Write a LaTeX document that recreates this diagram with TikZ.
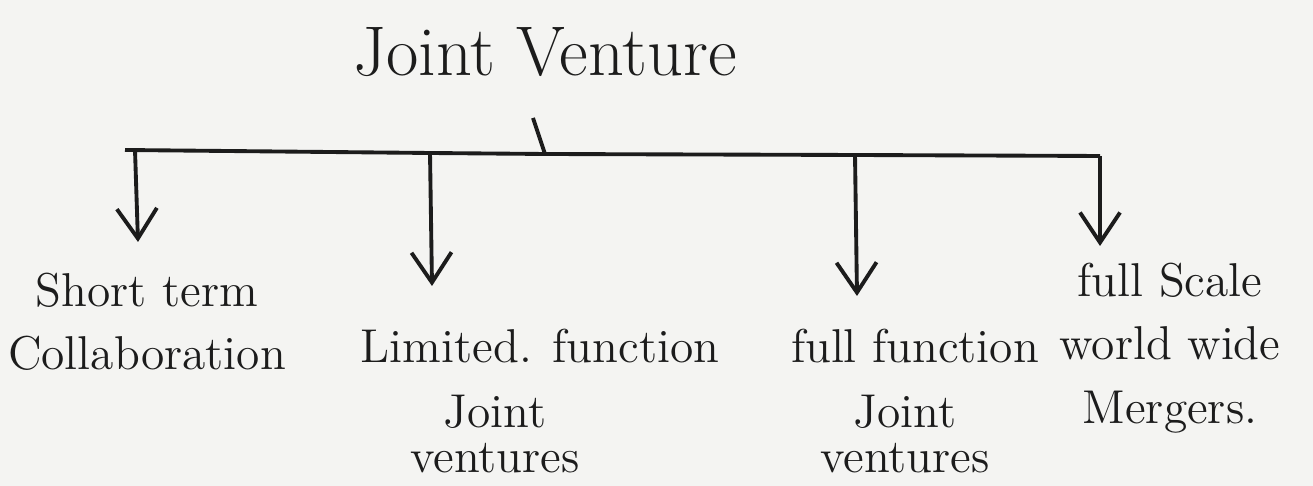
\documentclass[tikz,border=0pt]{standalone}
\usepackage{tikz}
\usetikzlibrary{arrows.meta,positioning}
\definecolor{ink}{HTML}{1c1c1c}
\definecolor{paper}{HTML}{F4F4F2}
\tikzset{
  head/.style={font=\fontsize{20}{24}\selectfont, text=ink, inner sep=0pt},
  leaf/.style={font=\fontsize{13.5}{18}\selectfont, text=ink, align=center, inner sep=0pt},
  tight/.style={leaf, font=\fontsize{13.5}{13}\selectfont},
  bar/.style={draw=ink, line width=1.1pt},
  flow/.style={-{Straight Barb[length=3mm,width=4mm]}, draw=ink, line width=1.1pt},
}
\begin{document}
\begin{tikzpicture}[x=0.01cm, y=-0.01cm]
\fill[paper] (0,0) rectangle (1313,486);
\useasboundingbox (0,0) rectangle (1313,486);
\node[head] (jv) at (545,52) {Joint Venture};
% bar and the branch points on it
\coordinate (stem) at (533,118);
\coordinate (lend) at (125,150);
\coordinate (rend) at (1100,156);
\coordinate (b1) at (135,150);
\coordinate (b2) at (430,153);
\coordinate (b3) at (545,154);
\coordinate (b4) at (855,155);
\draw[bar] (stem) -- (b3);
\draw[bar] (lend) -- (b2) -- (b3) -- (b4) -- (rend);
% arrow tips
\coordinate (t1) at (138,242);
\coordinate (t2) at (432,286);
\coordinate (t3) at (857,296);
\coordinate (t4) at (1100,246);
\node[leaf] (st) at (147,322) {Short term\\Collaboration};
\node[leaf] (lf) at (540,346) {Limited. function};
\node[tight] (lj) at (495,434) {Joint\\ventures};
\node[leaf] (ff) at (915,346) {full function};
\node[tight] (fj) at (905,434) {Joint\\ventures};
\node[leaf] (fs) at (1170,348) {full Scale\\world wide\\Mergers.};
\draw[flow] (b1) -- (t1);
\draw[flow] (b2) -- (t2);
\draw[flow] (b4) -- (t3);
\draw[flow] (rend) -- (t4);
\end{tikzpicture}
\end{document}
